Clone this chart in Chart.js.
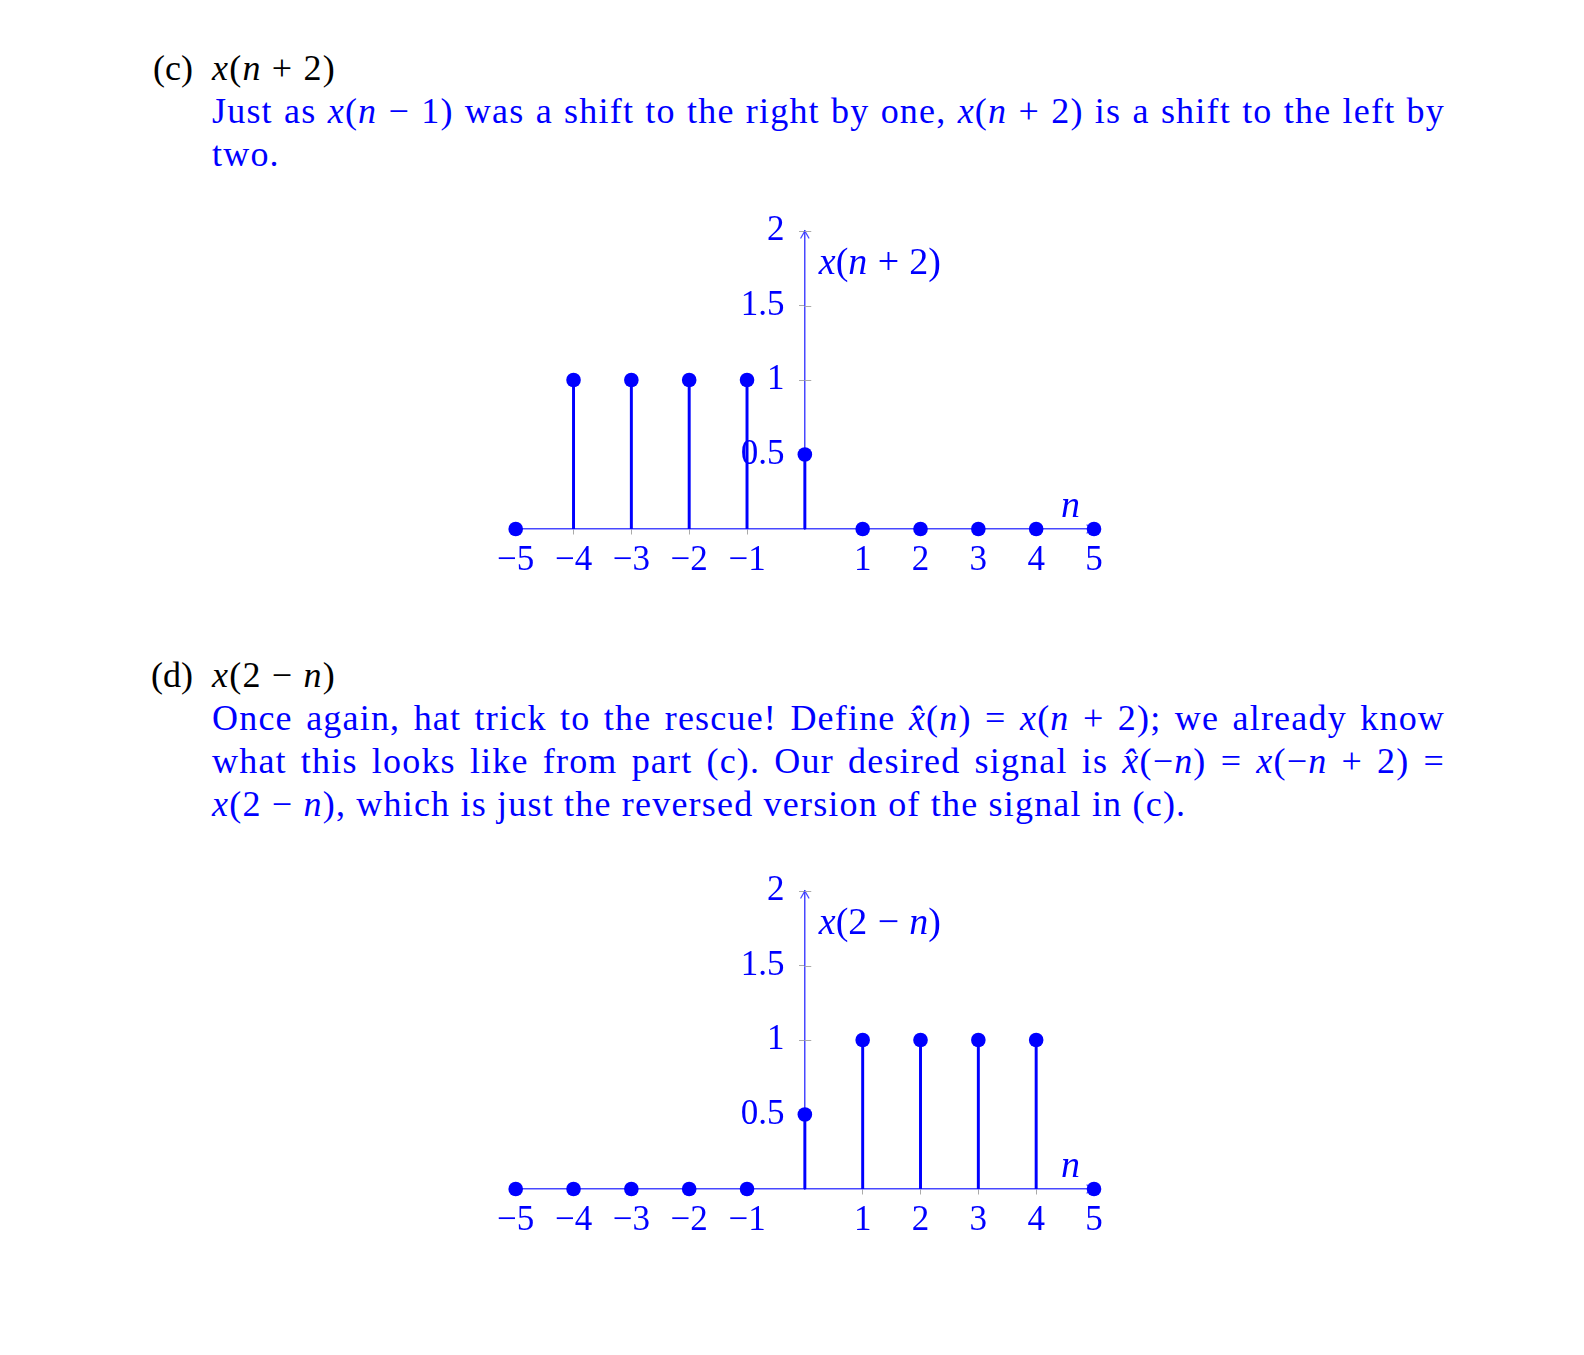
<!DOCTYPE html>
<html lang="en">
<head>
  <meta charset="UTF-8" />
  <title>Shifted and reversed signals</title>
  <script src="https://cdn.jsdelivr.net/npm/chart.js"></script>
  <style>
    body { margin:0; width:1584px; height:1355px; background:#fff; position:relative; overflow:hidden; font-family:'Liberation Serif',serif; }
    .part { position:absolute; left:212px; width:1233px; font-size:36px; line-height:43px; letter-spacing:1.2px; }
    .part .line { position:relative; }
    .part .head { color:#000; }
    .part .label { position:absolute; right:100%; margin-right:19px; top:0; color:#000; letter-spacing:0; }
    .part .txt { color:#0000ff; }
    .part .full { text-align:justify; text-align-last:justify; }
    canvas { position:absolute; }
  </style>
</head>
<body>
  <div class="part" style="top:47px;">
    <div class="line head"><span class="label">(c)</span><i>x</i>(<i>n</i> + 2)</div>
    <div class="line txt full">Just as <i>x</i>(<i>n</i> − 1) was a shift to the right by one, <i>x</i>(<i>n</i> + 2) is a shift to the left by</div>
    <div class="line txt">two.</div>
  </div>
  <canvas id="chartShift" width="780" height="420" style="left:415px; top:181px;"></canvas>

  <div class="part" style="top:653.5px;">
    <div class="line head"><span class="label">(d)</span><i>x</i>(2 − <i>n</i>)</div>
    <div class="line txt full">Once again, hat trick to the rescue! Define <i>x̂</i>(<i>n</i>) = <i>x</i>(<i>n</i> + 2); we already know</div>
    <div class="line txt full">what this looks like from part (c). Our desired signal is <i>x̂</i>(−<i>n</i>) = <i>x</i>(−<i>n</i> + 2) =</div>
    <div class="line txt"><i>x</i>(2 − <i>n</i>), which is just the reversed version of the signal in (c).</div>
  </div>
  <canvas id="chartReverse" width="780" height="420" style="left:415px; top:841px;"></canvas>

  <script>
    // sample index and the two signals
    const nValues = [-5, -4, -3, -2, -1, 0, 1, 2, 3, 4, 5];
    const shiftedValues = [0, 1, 1, 1, 1, 0.5, 0, 0, 0, 0, 0];   // x(n+2)
    const reversedValues = [0, 0, 0, 0, 0, 0.5, 1, 1, 1, 1, 0];  // x(2-n)
    const xTickValues = [-5, -4, -3, -2, -1, 1, 2, 3, 4, 5];
    const yTickValues = [0.5, 1, 1.5, 2];

    const blue = '#0000ff';
    const axisBlue = 'rgba(40,40,255,0.85)';
    const fontName = '"Liberation Serif", serif';

    function fmt(v) {
      return v < 0 ? '\u2212' + Math.abs(v) : String(v);
    }

    // y labels sit on the axis itself, so pad them on the right
    function fmtY(v) {
      return fmt(v) + '\u2002\u200A';
    }

    // letters italic, everything else upright, like TeX math
    function drawMath(ctx, text, x, y, size) {
      for (const ch of text) {
        if (ch === ' ') { x += size * 0.27; continue; }
        const italic = /[a-z]/.test(ch);
        ctx.font = (italic ? 'italic ' : '') + size + 'px ' + fontName;
        ctx.fillText(ch, x, y);
        x += ctx.measureText(ch).width;
      }
    }

    const axisDecor = {
      id: 'axisDecor',
      beforeDatasetsDraw(chart, args, opts) {
        const { ctx, scales: { x, y } } = chart;
        const x0 = x.getPixelForValue(0), y0 = y.getPixelForValue(0);
        const xEnd = x.getPixelForValue(x.max), yTop = y.getPixelForValue(y.max);
        ctx.save();
        ctx.strokeStyle = axisBlue;
        ctx.lineWidth = 1.3;
        ctx.lineCap = 'round';
        // arrow heads
        ctx.beginPath();
        ctx.moveTo(xEnd - 7, y0 - 4); ctx.lineTo(xEnd, y0); ctx.lineTo(xEnd - 7, y0 + 4);
        ctx.moveTo(x0 - 4, yTop + 7); ctx.lineTo(x0, yTop); ctx.lineTo(x0 + 4, yTop + 7);
        ctx.stroke();
        // short grey marks on the right of the y axis, like the reference
        ctx.strokeStyle = '#aaaaaa';
        ctx.lineWidth = 1;
        ctx.beginPath();
        y.ticks.forEach(t => {
          const py = Math.round(y.getPixelForValue(t.value)) + 0.5;
          ctx.moveTo(x0, py); ctx.lineTo(x0 + 6, py);
        });
        ctx.stroke();
        ctx.fillStyle = blue;
        ctx.textBaseline = 'alphabetic';
        ctx.textAlign = 'left';
        drawMath(ctx, opts.title, x0 + 14, yTop + 43, 38);
        drawMath(ctx, 'n', xEnd - 33, y0 - 12, 38);
        ctx.restore();
      }
    };

    function makeChart(id, values, title) {
      const pts = nValues.map((n, i) => ({ x: n, y: values[i] }));
      return new Chart(document.getElementById(id), {
        type: 'scatter',
        data: {
          datasets: [
            { type: 'scatter', data: pts, order: 0, pointRadius: 7.3, pointHoverRadius: 7.3,
              backgroundColor: blue, borderWidth: 0, clip: false },
            { type: 'bar', data: pts, order: 1, backgroundColor: blue, barThickness: 2.3, borderWidth: 0 }
          ]
        },
        options: {
          responsive: false,
          animation: false,
          layout: { padding: { left: 100.7, right: 101, top: 50, bottom: 72 } },
          plugins: { legend: { display: false }, tooltip: { enabled: false }, axisDecor: { title: title } },
          scales: {
            x: {
              type: 'linear', min: -5, max: 5, offset: false, position: { y: 0 },
              afterBuildTicks: s => { s.ticks = xTickValues.map(v => ({ value: v })); },
              border: { color: axisBlue, width: 1.5 },
              grid: { drawOnChartArea: false, tickLength: 5, color: '#aaaaaa', offset: false },
              ticks: { color: blue, font: { family: fontName, size: 35 }, padding: 6, maxRotation: 0, autoSkip: false, callback: fmt }
            },
            y: {
              type: 'linear', min: 0, max: 2, position: { x: 0 },
              afterBuildTicks: s => { s.ticks = yTickValues.map(v => ({ value: v })); },
              border: { color: axisBlue, width: 1.5 },
              grid: { drawOnChartArea: false, tickLength: 5, color: '#aaaaaa' },
              ticks: { color: blue, font: { family: fontName, size: 35 }, padding: 16, autoSkip: false, callback: fmtY }
            }
          }
        },
        plugins: [axisDecor]
      });
    }

    makeChart('chartShift', shiftedValues, 'x(n + 2)');
    makeChart('chartReverse', reversedValues, 'x(2 − n)');
  </script>
</body>
</html>
